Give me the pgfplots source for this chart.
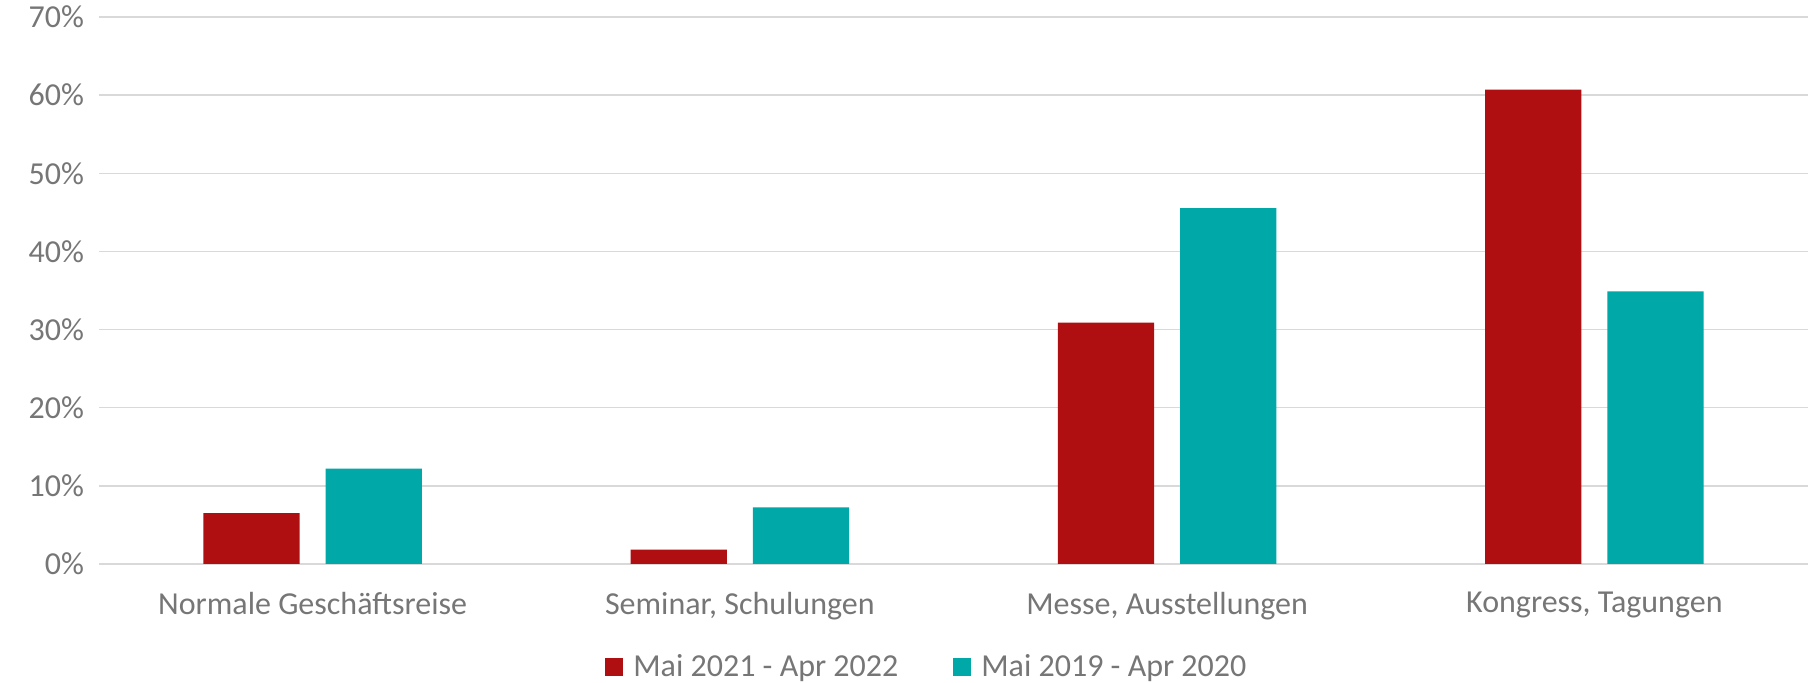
\documentclass[border=0pt]{standalone}
\usepackage{pgfplots}
\pgfplotsset{compat=1.18}
\usepackage{fontspec}
\setmainfont{Carlito}
\definecolor{cred}{RGB}{176,15,17}
\definecolor{cteal}{RGB}{0,168,168}
\definecolor{ctext}{RGB}{118,118,118}
\definecolor{cgrid}{RGB}{217,217,217}
\begin{document}
\begin{tikzpicture}
\useasboundingbox (-49.5pt,-59.5pt) rectangle (860.5pt,282pt);
\begin{axis}[
  name=ax,
  scale only axis,
  width=854.5pt, height=273.5pt,
  ybar,
  xmin=-0.5, xmax=3.5,
  ymin=0, ymax=70,
  xtick=data,
  xticklabels={Normale Geschäftsreise, {Seminar, Schulungen}, {Messe, Ausstellungen}, {Kongress, Tagungen}},
  ytick={0,10,...,70},
  yticklabel={\pgfmathprintnumber{\tick}\%},
  /pgf/number format/assume math mode=true,
  ymajorgrids,
  major grid style={cgrid, line width=0.7pt},
  axis line style={draw=none},
  major tick length=0pt,
  tick label style={font=\fontsize{16pt}{19pt}\selectfont, text=ctext},
  yticklabel style={xshift=-4pt},
  xticklabel style={yshift=-10.5pt},
  legend style={draw=none, at={(0.485,0)}, anchor=center, yshift=-51.5pt,
    legend columns=2, font=\fontsize{16pt}{19pt}\selectfont, text=ctext,
    /tikz/every even column/.append style={column sep=25.5pt}},
  legend image code/.code={\fill (0pt,-4.5pt) rectangle (9pt,4.5pt);},
  legend cell align=left,
]
\addplot[fill=cred, draw=none, bar width=0.225, bar shift=-0.143] coordinates {(0,6.5) (1,1.85) (2,30.9) (3,60.7)};
\addplot[fill=cteal, draw=none, bar width=0.225, bar shift=0.143] coordinates {(0,12.2) (1,7.25) (2,45.55) (3,34.9)};
\legend{\hspace{3pt}Mai 2021 - Apr 2022, \hspace{3pt}Mai 2019 - Apr 2020}
\end{axis}
\end{tikzpicture}
\end{document}
